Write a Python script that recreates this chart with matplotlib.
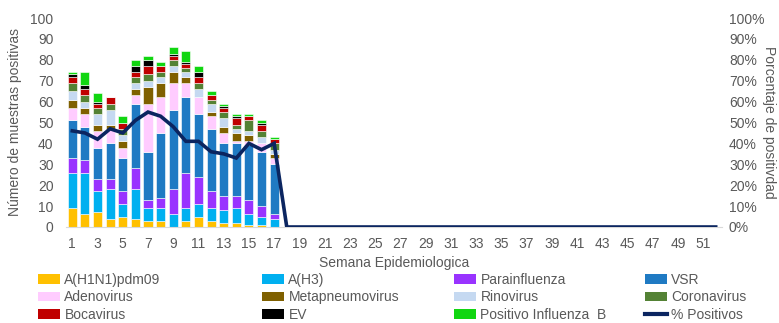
import numpy as np
import matplotlib.pyplot as plt
from matplotlib.patches import Patch
from matplotlib.lines import Line2D

FONT = ['Liberation Sans Narrow', 'DejaVu Sans Condensed', 'Liberation Sans', 'DejaVu Sans']
plt.rcParams['font.family'] = FONT
GREY = '#595959'

# weeks with samples (1-17) and the full year axis (1-52)
weeks = list(range(1, 18))
all_weeks = list(range(1, 53))

h1n1 = [9, 6, 7, 4, 5, 4, 3, 3, 0, 3, 5, 3, 2, 2, 1, 1, 0]
h3 = [17, 20, 10, 14, 6, 14, 6, 6, 6, 6, 6, 6, 6, 7, 5, 4, 4]
para = [7, 6, 6, 5, 6, 10, 4, 5, 12, 17, 13, 8, 7, 6, 7, 5, 2]
vsr = [18, 16, 15, 17, 16, 31, 23, 31, 38, 36, 30, 30, 25, 25, 26, 26, 24]
adeno = [6, 6, 8, 7, 5, 4, 23, 17, 13, 7, 8, 6, 5, 1, 2, 4, 3]
metap = [4, 3, 3, 2, 3, 3, 8, 7, 5, 3, 0, 2, 3, 4, 3, 0, 2]
rino = [4, 3, 5, 7, 3, 3, 3, 3, 3, 2, 4, 4, 4, 2, 2, 3, 2]
corona = [4, 3, 3, 3, 3, 3, 3, 2, 3, 2, 3, 2, 3, 2, 5, 3, 3]
boca = [3, 3, 2, 3, 3, 2, 4, 3, 2, 2, 3, 2, 2, 3, 2, 3, 2]
ev = [1, 2, 1, 0, 0, 3, 3, 0, 1, 1, 2, 0, 1, 1, 0, 1, 0]
flub = [1, 6, 4, 0, 3, 3, 2, 2, 3, 5, 3, 2, 1, 1, 1, 1, 1]

pct_pos = [46, 45, 42, 47, 45, 51, 55, 53, 48, 41, 41, 36, 35, 33, 40, 37, 40] + [0] * 35

series = [
    ('A(H1N1)pdm09', h1n1, '#FFC000'),
    ('A(H3)', h3, '#00B0F0'),
    ('Parainfluenza', para, '#9933FF'),
    ('VSR', vsr, '#1F7AC3'),
    ('Adenovirus', adeno, '#FFCCFF'),
    ('Metapneumovirus', metap, '#7F6000'),
    ('Rinovirus', rino, '#C5D9F1'),
    ('Coronavirus', corona, '#548235'),
    ('Bocavirus', boca, '#C00000'),
    ('EV', ev, '#000000'),
    ('Positivo Influenza  B', flub, '#11D611'),
]

fig = plt.figure(figsize=(7.79, 3.23), dpi=100)
ax = fig.add_axes([66 / 779, 96 / 323, 656 / 779, 209 / 323])

bottom = np.zeros(len(weeks))
for name, vals, col in series:
    ax.bar(weeks, vals, width=0.72, bottom=bottom, color=col,
           edgecolor='white', linewidth=0.4)
    bottom += np.array(vals)

ax.set_xlim(0.5, 52.5)
ax.set_ylim(0, 100)
ax.set_yticks(range(0, 101, 10))
ax.set_xticks(range(1, 53, 2))
for s in ['top', 'right', 'left']:
    ax.spines[s].set_visible(False)
ax.spines['bottom'].set_color('#D9D9D9')
ax.tick_params(axis='both', length=0, labelsize=10, colors=GREY)
ax.tick_params(axis='y', pad=9)
ax.tick_params(axis='x', pad=7)
ax.set_ylabel('Número de muestras positivas', fontsize=10, color=GREY, labelpad=6)
ax.set_xlabel('Semana Epidemiologica', fontsize=10, color=GREY, labelpad=4)

ax2 = ax.twinx()
ax2.plot(all_weeks, pct_pos, color='#0B2560', linewidth=2.6, solid_joinstyle='miter')
ax2.set_ylim(0, 100)
ax2.set_yticks(range(0, 101, 10))
ax2.set_yticklabels([f'{v}%' for v in range(0, 101, 10)])
for s in ['top', 'right', 'left', 'bottom']:
    ax2.spines[s].set_visible(False)
ax2.tick_params(axis='y', length=0, labelsize=10, colors=GREY, pad=5)
ax2.set_ylabel('Porcentaje de positivdad', fontsize=10, color=GREY,
               rotation=-90, labelpad=8)

# legend laid out as four columns under the axis
handles = [Patch(facecolor=c, edgecolor='none') for _, _, c in series]
handles.append(Line2D([0], [0], color='#0B2560', linewidth=3))
labels = [n for n, _, _ in series] + ['% Positivos']
col_x = [38, 262, 454, 645]
for j in range(4):
    leg = fig.legend([handles[j], handles[j + 4], handles[j + 8]],
                     [labels[j], labels[j + 4], labels[j + 8]],
                     loc='upper left', bbox_to_anchor=(col_x[j] / 779, 1 - 273 / 323),
                     frameon=False, fontsize=10, handlelength=1.6, handleheight=0.7,
                     handletextpad=0.3, labelspacing=0.25, borderpad=0, borderaxespad=0)
    for t in leg.get_texts():
        t.set_color(GREY)

fig.savefig('out.png', dpi=100)
